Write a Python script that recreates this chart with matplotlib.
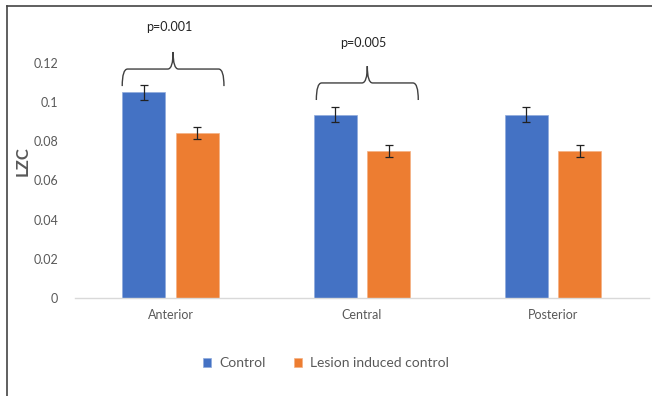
import matplotlib.pyplot as plt
import numpy as np
from matplotlib.path import Path
from matplotlib.patches import PathPatch
from matplotlib.lines import Line2D

plt.rcParams["font.family"] = ["Lato", "DejaVu Sans"]

regions = ["Anterior", "Central", "Posterior"]
control = [0.105, 0.0935, 0.0935]
lesion = [0.084, 0.075, 0.075]
control_err = [0.0038, 0.0038, 0.0038]
lesion_err = [0.003, 0.003, 0.003]

# significance braces: group index, x-span (relative to group), base, bar level, tip
sig_groups = [0, 1]
sig_labels = ["p=0.001", "p=0.005"]
sig_span = [(-0.253, 0.279), (-0.238, 0.295)]
sig_levels = [(0.1081, 0.1168, 0.1255), (0.101, 0.1097, 0.1183)]
sig_text_y = [0.1383, 0.1302]

blue = "#4472C4"
orange = "#ED7D31"
grey = "#595959"


def draw_brace(ax, x0, x1, yb, yh, yt, r=0.028):
    xc = (x0 + x1) / 2
    verts = [(x0, yb), (x0, yh), (x0 + r, yh),
             (xc - r, yh), (xc, yh), (xc, yt),
             (xc, yh), (xc + r, yh),
             (x1 - r, yh), (x1, yh), (x1, yb)]
    codes = [Path.MOVETO, Path.CURVE3, Path.CURVE3,
             Path.LINETO, Path.CURVE3, Path.CURVE3,
             Path.CURVE3, Path.CURVE3,
             Path.LINETO, Path.CURVE3, Path.CURVE3]
    ax.add_patch(PathPatch(Path(verts, codes), facecolor="none",
                           edgecolor="#404040", lw=1.0, clip_on=False))


fig = plt.figure(figsize=(6.52, 3.96), dpi=100)
ax = fig.add_axes([0.115, 0.2475, 0.880, 0.693])

x = np.arange(len(regions))
w = 0.224
off = 0.14
err_kw = dict(ecolor="#222222", elinewidth=0.9, capsize=3, capthick=0.9)
ax.bar(x - off, control, w, yerr=control_err, color=blue, edgecolor="#8FAADC",
       linewidth=0.5, label="Control", error_kw=err_kw)
ax.bar(x + off, lesion, w, yerr=lesion_err, color=orange, edgecolor="#F4B183",
       linewidth=0.5, label="Lesion induced control", error_kw=err_kw)

for g, lab, (a, b), (yb, yh, yt), ty in zip(sig_groups, sig_labels, sig_span,
                                             sig_levels, sig_text_y):
    draw_brace(ax, g + a, g + b, yb, yh, yt)
    ax.text(g + (a + b) / 2 - 0.02, ty, lab, ha="center", va="center",
            fontsize=9, color="#222222", clip_on=False)

ax.set_xlim(-0.5, 2.5)
ax.set_ylim(0, 0.14)
ax.set_yticks([0, 0.02, 0.04, 0.06, 0.08, 0.1, 0.12])
ax.set_yticklabels(["0", "0.02", "0.04", "0.06", "0.08", "0.1", "0.12"])
ax.set_xticks(x)
ax.set_xticklabels(regions)
ax.tick_params(length=0, labelsize=9, labelcolor=grey)
ax.tick_params(axis="x", pad=8)
ax.tick_params(axis="y", pad=12)
for s in ["top", "right", "left"]:
    ax.spines[s].set_visible(False)
ax.spines["bottom"].set_color("#D9D9D9")
ax.spines["bottom"].set_linewidth(1.0)

ax.set_ylabel("LZC", fontsize=12, fontweight="bold", color=grey, labelpad=2)

fig.legend(loc="center", bbox_to_anchor=(0.5, 0.083), ncol=2, frameon=False,
           fontsize=10, labelcolor=grey, handlelength=0.6, handleheight=0.6,
           columnspacing=2.0, handletextpad=0.6)

# outer frame (top and left edges)
fig.add_artist(Line2D([0.0107, 1.0], [0.985, 0.985], color="#444444", lw=1.2))
fig.add_artist(Line2D([0.0107, 0.0107], [0.0, 0.985], color="#444444", lw=1.2))

fig.savefig("out.png", dpi=100)
